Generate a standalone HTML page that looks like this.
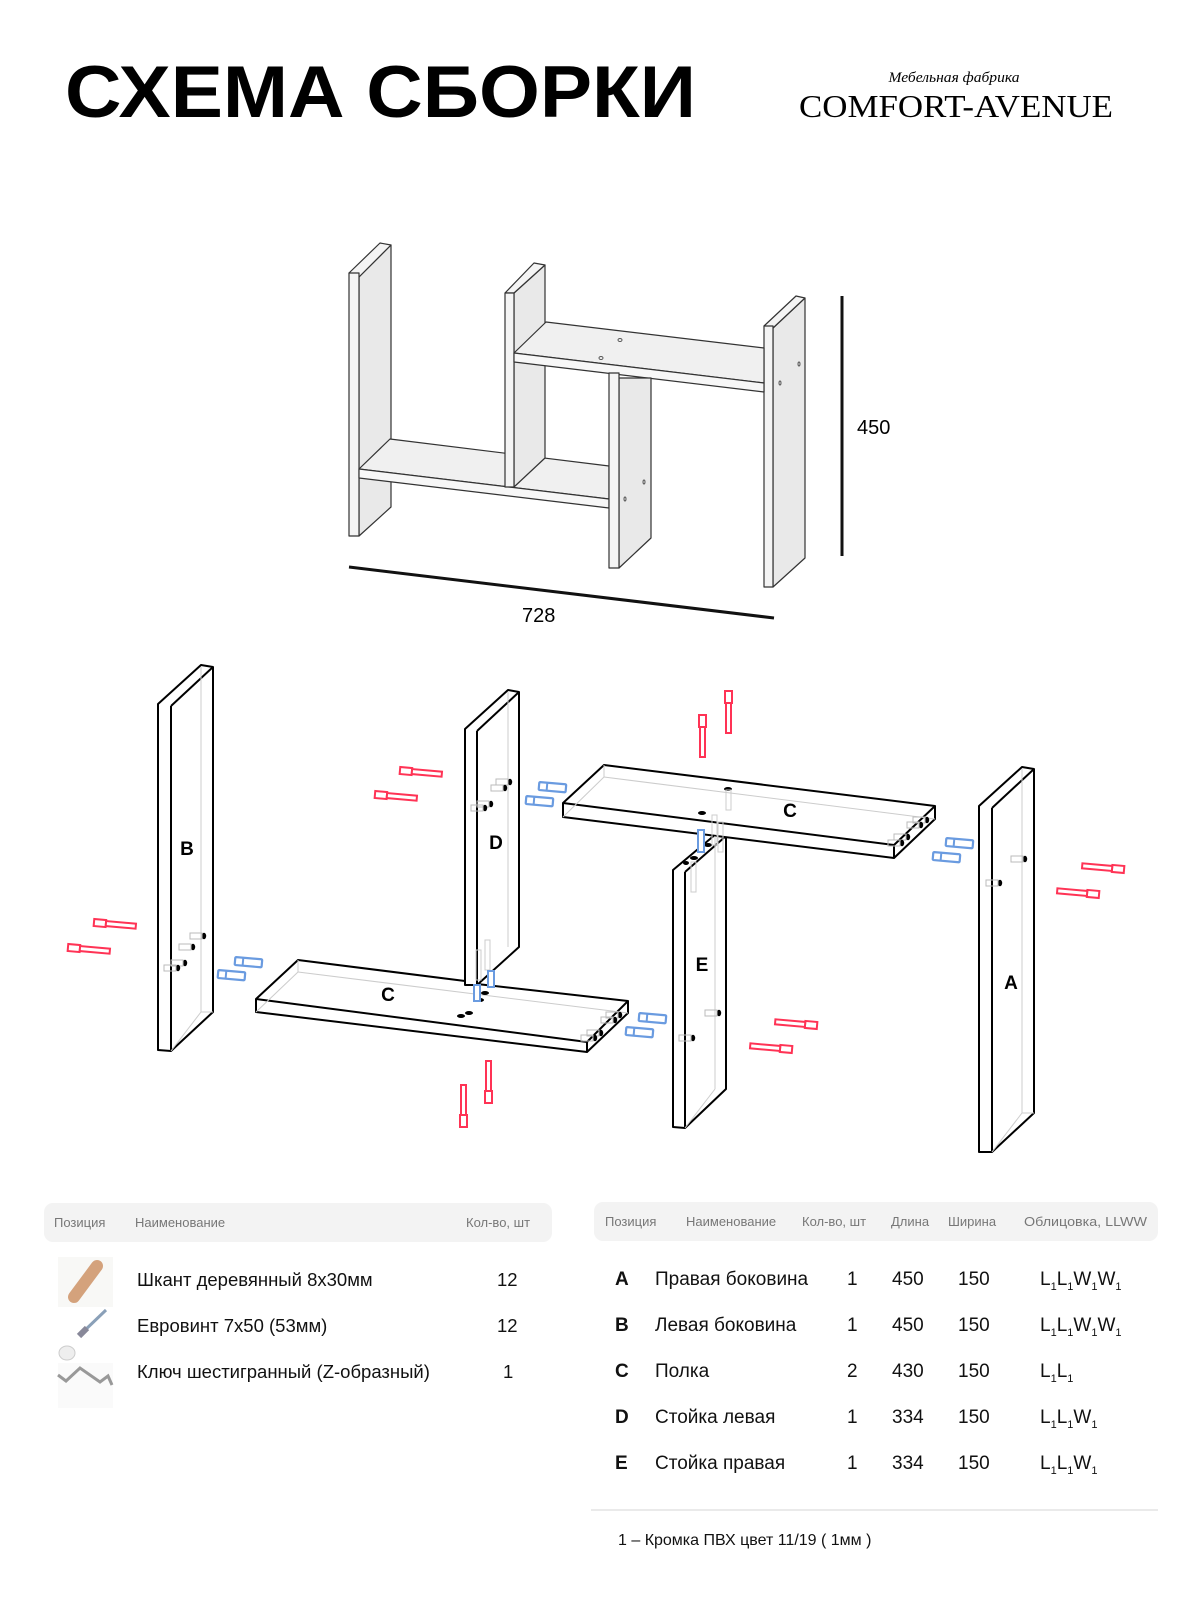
<!DOCTYPE html>
<html><head><meta charset="utf-8"><style>
html,body{margin:0;padding:0;background:#fff;}
svg{display:block;}
text{font-family:"Liberation Sans","Noto Sans CJK SC",sans-serif;}
</style></head><body>
<svg width="1200" height="1600" viewBox="0 0 1200 1600" xmlns="http://www.w3.org/2000/svg">
<defs>
<g id="rs"><rect x="0" y="-3" width="12" height="7" fill="#fff" stroke="#ff3355" stroke-width="2"/><rect x="12" y="-2" width="30" height="5" fill="#fff" stroke="#ff3355" stroke-width="2"/></g>
<g id="bd"><rect x="0" y="-4" width="27" height="8" rx="1" fill="#fff" stroke="#6a9be0" stroke-width="2.2"/><line x1="8" y1="-4" x2="8" y2="4" stroke="#6a9be0" stroke-width="2"/></g>
<g id="hw"><ellipse cx="0" cy="0" rx="2.2" ry="3.2" fill="#000"/><rect x="-14" y="-3" width="12" height="6" fill="none" stroke="#bbb" stroke-width="1"/></g>
</defs>

<!-- Title -->
<text x="65" y="117" font-size="73" font-weight="bold" textLength="631" lengthAdjust="spacingAndGlyphs">СХЕМА СБОРКИ</text>
<text x="954" y="82" font-size="15" font-style="italic" text-anchor="middle" style="font-family:'Liberation Serif',serif" textLength="131" lengthAdjust="spacingAndGlyphs">Мебельная фабрика</text>
<text x="799" y="117" font-size="32" style="font-family:'Liberation Serif',serif" textLength="314" lengthAdjust="spacingAndGlyphs">COMFORT-AVENUE</text>

<!-- Assembled view -->
<g stroke="#333" stroke-width="1.2" stroke-linejoin="round">
<polygon points="359,277 391,245 391,507 359,536" fill="#e9e9e9"/>
<polygon points="349,273 380,243 391,245 359,277" fill="#f4f4f4"/>
<rect x="349" y="273" width="10" height="263" fill="#f4f4f4"/>
<polygon points="773,328 805,298 805,558 773,587" fill="#e9e9e9"/>
<polygon points="764,326 796,296 805,298 773,328" fill="#f4f4f4"/>
<rect x="764" y="326" width="9" height="261" fill="#f4f4f4"/>
<polygon points="359,469 390,439 609,466 609,499" fill="#f0f0f0"/>
<polygon points="359,469 609,499 609,508 359,478" fill="#f7f7f7"/>
<polygon points="514,293 545,265 545,458 514,487" fill="#e9e9e9"/>
<polygon points="505,293 534,263 545,265 514,293" fill="#f4f4f4"/>
<rect x="505" y="293" width="9" height="194" fill="#f4f4f4"/>
<polygon points="514,353 546,322 764,348 764,383" fill="#f0f0f0"/>
<polygon points="514,353 764,383 764,392 514,362" fill="#f7f7f7"/>
<polygon points="619,378 651,378 651,538 619,568" fill="#e9e9e9"/>
<rect x="609" y="373" width="10" height="195" fill="#f4f4f4"/>
</g>
<ellipse cx="620" cy="340" rx="2" ry="1.5" fill="none" stroke="#555"/>
<ellipse cx="601" cy="358" rx="2" ry="1.5" fill="none" stroke="#555"/>
<ellipse cx="799" cy="364" rx="1" ry="2" fill="none" stroke="#555"/>
<ellipse cx="780" cy="383" rx="1" ry="2" fill="none" stroke="#555"/>
<ellipse cx="644" cy="482" rx="1" ry="2" fill="none" stroke="#555"/>
<ellipse cx="625" cy="499" rx="1" ry="2" fill="none" stroke="#555"/>

<!-- Dimensions -->
<line x1="842" y1="296" x2="842" y2="556" stroke="#111" stroke-width="3"/>
<text x="857" y="434" font-size="20">450</text>
<line x1="349" y1="567" x2="774" y2="618" stroke="#111" stroke-width="3"/>
<text x="522" y="622" font-size="20">728</text>

<!-- Exploded view -->
<g fill="#fff" stroke="#000" stroke-width="2" stroke-linejoin="round">
<polygon points="158,704 201,665 213,667 213,1012 171,1051 158,1050"/>
<line x1="171" y1="706" x2="213" y2="667"/><line x1="171" y1="706" x2="171" y2="1051"/>
<polygon points="256,999 298,960 465,981 477,984 628,1001 628,1013 587,1052 256,1012"/>
<line x1="256" y1="999" x2="587" y2="1042"/><line x1="587" y1="1042" x2="628" y2="1001"/><line x1="587" y1="1042" x2="587" y2="1052"/>
<polygon points="465,729 508,690 519,692 519,947 477,985 465,985"/>
<line x1="477" y1="731" x2="519" y2="692"/><line x1="477" y1="731" x2="477" y2="985"/>
<!-- E -->
<polygon points="673,870 716,834 726,836 726,1089 685,1128 673,1127"/>
<line x1="685" y1="872" x2="726" y2="836"/><line x1="685" y1="872" x2="685" y2="1128"/>
<!-- upper C -->
<polygon points="563,803 604,765 935,806 935,819 894,858 563,817"/>
<line x1="563" y1="803" x2="894" y2="845"/><line x1="894" y1="845" x2="935" y2="806"/><line x1="894" y1="845" x2="894" y2="858"/>
<!-- A -->
<polygon points="979,806 1022,767 1034,769 1034,1113 992,1152 979,1152"/>
<line x1="992" y1="808" x2="1034" y2="769"/><line x1="992" y1="808" x2="992" y2="1152"/>
</g>
<g stroke="#ccc" stroke-width="1" fill="none">
<line x1="201" y1="667" x2="201" y2="1012"/><line x1="171" y1="1051" x2="201" y2="1012"/><line x1="201" y1="1012" x2="213" y2="1012"/>
<line x1="508" y1="692" x2="508" y2="947"/>
<line x1="298" y1="960" x2="298" y2="972"/><line x1="298" y1="972" x2="628" y2="1013"/><line x1="256" y1="1012" x2="298" y2="972"/>
<line x1="604" y1="765" x2="604" y2="777"/><line x1="604" y1="777" x2="935" y2="819"/><line x1="563" y1="817" x2="604" y2="777"/>
<line x1="715" y1="836" x2="715" y2="1089"/><line x1="685" y1="1128" x2="715" y2="1089"/>
<line x1="1022" y1="769" x2="1022" y2="1113"/><line x1="992" y1="1152" x2="1022" y2="1113"/><line x1="1022" y1="1113" x2="1034" y2="1113"/>
</g>
<g font-size="19" font-weight="bold" text-anchor="middle">
<text x="187" y="855">B</text><text x="496" y="849">D</text><text x="388" y="1001">C</text>
<text x="790" y="817">C</text><text x="702" y="971">E</text><text x="1011" y="989">A</text>
</g>
<!-- hardware holes -->
<use href="#hw" x="204" y="936"/><use href="#hw" x="193" y="947"/><use href="#hw" x="185" y="963"/><use href="#hw" x="178" y="968"/>
<use href="#hw" x="510" y="782"/><use href="#hw" x="505" y="788"/><use href="#hw" x="491" y="804"/><use href="#hw" x="485" y="808"/>
<use href="#hw" x="719" y="1013"/><use href="#hw" x="693" y="1038"/>
<use href="#hw" x="1025" y="859"/><use href="#hw" x="1000" y="883"/>
<use href="#hw" x="620" y="1015"/><use href="#hw" x="615" y="1020"/><use href="#hw" x="601" y="1033"/><use href="#hw" x="595" y="1038"/>
<use href="#hw" x="927" y="820"/><use href="#hw" x="921" y="825"/><use href="#hw" x="908" y="837"/><use href="#hw" x="902" y="843"/>
<ellipse cx="485" cy="993" rx="4" ry="2" fill="#000"/><ellipse cx="480" cy="1000" rx="4" ry="2" fill="#000"/>
<ellipse cx="469" cy="1013" rx="4" ry="2" fill="#000"/><ellipse cx="461" cy="1016" rx="4" ry="2" fill="#000"/>
<ellipse cx="728" cy="789" rx="4" ry="2" fill="#000"/><ellipse cx="702" cy="813" rx="4" ry="2" fill="#000"/>
<ellipse cx="694" cy="858" rx="4" ry="2" fill="#000"/><ellipse cx="686" cy="863" rx="3" ry="2" fill="#000"/>
<ellipse cx="708" cy="845" rx="4" ry="2" fill="#000"/>
<rect x="485" y="940" width="5" height="30" fill="none" stroke="#ccc"/><rect x="476" y="950" width="5" height="30" fill="none" stroke="#ccc"/>
<rect x="488" y="971" width="6" height="16" fill="#fff" stroke="#6a9be0" stroke-width="2"/><rect x="474" y="985" width="6" height="16" fill="#fff" stroke="#6a9be0" stroke-width="2"/>
<rect x="698" y="830" width="6" height="22" fill="#fff" stroke="#6a9be0" stroke-width="2"/>
<rect x="712" y="815" width="5" height="30" fill="none" stroke="#ccc"/><rect x="718" y="822" width="5" height="30" fill="none" stroke="#ccc"/>
<rect x="726" y="790" width="5" height="20" fill="none" stroke="#ccc"/><rect x="691" y="862" width="5" height="30" fill="none" stroke="#ccc"/>

<!-- red screws -->
<use href="#rs" transform="translate(400,770) rotate(5)"/>
<use href="#rs" transform="translate(375,794) rotate(5)"/>
<use href="#rs" transform="translate(94,922) rotate(5)"/>
<use href="#rs" transform="translate(68,947) rotate(5)"/>
<use href="#rs" transform="translate(1124,870) rotate(185)"/>
<use href="#rs" transform="translate(1099,895) rotate(185)"/>
<use href="#rs" transform="translate(817,1026) rotate(185)"/>
<use href="#rs" transform="translate(792,1050) rotate(185)"/>
<use href="#rs" transform="translate(729,691) rotate(90)"/>
<use href="#rs" transform="translate(703,715) rotate(90)"/>
<use href="#rs" transform="translate(488,1103) rotate(-90)"/>
<use href="#rs" transform="translate(463,1127) rotate(-90)"/>
<!-- blue dowels -->
<use href="#bd" transform="translate(539,786) rotate(5)"/>
<use href="#bd" transform="translate(526,800) rotate(5)"/>
<use href="#bd" transform="translate(235,961) rotate(5)"/>
<use href="#bd" transform="translate(218,974) rotate(5)"/>
<use href="#bd" transform="translate(946,842) rotate(5)"/>
<use href="#bd" transform="translate(933,856) rotate(5)"/>
<use href="#bd" transform="translate(639,1017) rotate(5)"/>
<use href="#bd" transform="translate(626,1031) rotate(5)"/>

<!-- Left table -->
<rect x="44" y="1203" width="508" height="39" rx="9" fill="#f3f3f3"/>
<g font-size="13" fill="#777"><text x="54" y="1227">Позиция</text><text x="135" y="1227">Наименование</text><text x="466" y="1227">Кол-во, шт</text></g>
<g font-size="18.5" fill="#111">
<text x="137" y="1286">Шкант деревянный 8х30мм</text><text x="497" y="1286">12</text>
<text x="137" y="1332">Евровинт 7х50 (53мм)</text><text x="497" y="1332">12</text>
<text x="137" y="1378">Ключ шестигранный (Z-образный)</text><text x="503" y="1378">1</text>
</g>
<rect x="58" y="1257" width="55" height="50" fill="#f8f8f6"/>
<line x1="74" y1="1297" x2="97" y2="1266" stroke="#d4a27c" stroke-width="12" stroke-linecap="round"/>
<line x1="82" y1="1333" x2="106" y2="1310" stroke="#8aa0b8" stroke-width="3"/>
<line x1="79" y1="1336" x2="87" y2="1328" stroke="#889" stroke-width="6"/>
<ellipse cx="67" cy="1353" rx="8" ry="7" fill="#eee" stroke="#ccc"/>
<rect x="58" y="1363" width="55" height="45" fill="#fafafa"/>
<polyline points="58,1375 66,1381 80,1368 100,1382 108,1376 112,1385" fill="none" stroke="#999" stroke-width="3"/>

<!-- Right table -->
<rect x="594" y="1202" width="564" height="39" rx="9" fill="#f3f3f3"/>
<g font-size="13" fill="#777"><text x="605" y="1226">Позиция</text><text x="686" y="1226">Наименование</text><text x="802" y="1226">Кол-во, шт</text><text x="891" y="1226">Длина</text><text x="948" y="1226">Ширина</text><text x="1024" y="1226" textLength="123" lengthAdjust="spacingAndGlyphs">Облицовка, LLWW</text></g>
<g font-size="19" fill="#111">
<g font-weight="bold"><text x="615" y="1285">A</text><text x="615" y="1331">B</text><text x="615" y="1377">C</text><text x="615" y="1423">D</text><text x="615" y="1469">E</text></g>
<text x="655" y="1285">Правая боковина</text><text x="655" y="1331">Левая боковина</text><text x="655" y="1377">Полка</text><text x="655" y="1423">Стойка левая</text><text x="655" y="1469">Стойка правая</text>
<text x="847" y="1285">1</text><text x="847" y="1331">1</text><text x="847" y="1377">2</text><text x="847" y="1423">1</text><text x="847" y="1469">1</text>
<text x="892" y="1285">450</text><text x="892" y="1331">450</text><text x="892" y="1377">430</text><text x="892" y="1423">334</text><text x="892" y="1469">334</text>
<text x="958" y="1285">150</text><text x="958" y="1331">150</text><text x="958" y="1377">150</text><text x="958" y="1423">150</text><text x="958" y="1469">150</text>
</g>
<g font-size="19" fill="#111">
<text x="1040" y="1285">L<tspan font-size="11" dy="5">1</tspan><tspan dy="-5">L</tspan><tspan font-size="11" dy="5">1</tspan><tspan dy="-5">W</tspan><tspan font-size="11" dy="5">1</tspan><tspan dy="-5">W</tspan><tspan font-size="11" dy="5">1</tspan></text>
<text x="1040" y="1331">L<tspan font-size="11" dy="5">1</tspan><tspan dy="-5">L</tspan><tspan font-size="11" dy="5">1</tspan><tspan dy="-5">W</tspan><tspan font-size="11" dy="5">1</tspan><tspan dy="-5">W</tspan><tspan font-size="11" dy="5">1</tspan></text>
<text x="1040" y="1377">L<tspan font-size="11" dy="5">1</tspan><tspan dy="-5">L</tspan><tspan font-size="11" dy="5">1</tspan></text>
<text x="1040" y="1423">L<tspan font-size="11" dy="5">1</tspan><tspan dy="-5">L</tspan><tspan font-size="11" dy="5">1</tspan><tspan dy="-5">W</tspan><tspan font-size="11" dy="5">1</tspan></text>
<text x="1040" y="1469">L<tspan font-size="11" dy="5">1</tspan><tspan dy="-5">L</tspan><tspan font-size="11" dy="5">1</tspan><tspan dy="-5">W</tspan><tspan font-size="11" dy="5">1</tspan></text>
</g>
<line x1="591" y1="1510" x2="1158" y2="1510" stroke="#e3e3e3" stroke-width="1.5"/>
<text x="618" y="1545" font-size="16" fill="#111">1 – Кромка ПВХ цвет 11/19 ( 1мм )</text>
</svg>
</body></html>
